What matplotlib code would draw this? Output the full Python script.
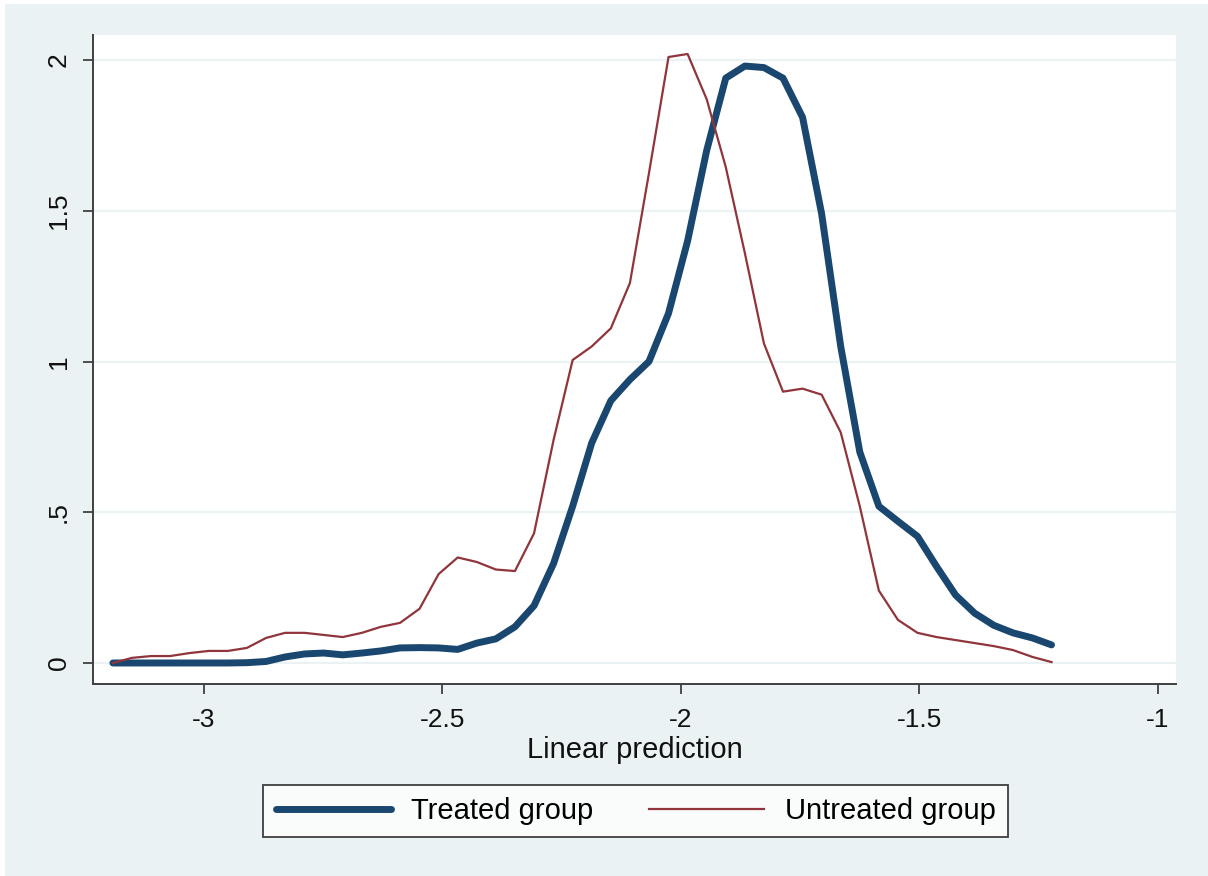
import matplotlib
matplotlib.use("Agg")
import matplotlib.pyplot as plt
from matplotlib.patches import Rectangle

# ---- data ----
x_grid = [-3.191, -3.151, -3.111, -3.071, -3.030, -2.990, -2.950, -2.910, -2.870, -2.830,
          -2.789, -2.749, -2.709, -2.669, -2.629, -2.589, -2.548, -2.508, -2.468, -2.428,
          -2.388, -2.348, -2.308, -2.267, -2.227, -2.187, -2.147, -2.107, -2.067, -2.026,
          -1.986, -1.946, -1.906, -1.866, -1.826, -1.786, -1.745, -1.705, -1.665, -1.625,
          -1.585, -1.545, -1.504, -1.464, -1.424, -1.384, -1.344, -1.304, -1.263, -1.223]

treated = [0.0, 0.0, 0.0, 0.0, 0.0, 0.0, 0.0, 0.001, 0.005, 0.02,
           0.03, 0.033, 0.027, 0.033, 0.04, 0.05, 0.051, 0.05, 0.045, 0.066,
           0.08, 0.12, 0.19, 0.33, 0.52, 0.73, 0.87, 0.94, 1.0, 1.16,
           1.40, 1.70, 1.94, 1.98, 1.975, 1.94, 1.81, 1.49, 1.05, 0.70,
           0.52, 0.47, 0.42, 0.32, 0.225, 0.165, 0.125, 0.10, 0.083, 0.06]

untreated = [0.0, 0.017, 0.023, 0.023, 0.033, 0.04, 0.04, 0.05, 0.083, 0.10,
             0.10, 0.093, 0.086, 0.10, 0.12, 0.133, 0.18, 0.295, 0.35, 0.335,
             0.31, 0.305, 0.43, 0.74, 1.005, 1.05, 1.11, 1.26, 1.625, 2.01,
             2.02, 1.87, 1.645, 1.36, 1.06, 0.90, 0.91, 0.89, 0.765, 0.52,
             0.24, 0.143, 0.10, 0.086, 0.076, 0.066, 0.056, 0.043, 0.02, 0.003]

x_ticks = [-3, -2.5, -2, -1.5, -1]
x_tick_labels = ["-3", "-2.5", "-2", "-1.5", "-1"]
y_ticks = [0, 0.5, 1, 1.5, 2]
y_tick_labels = ["0", ".5", "1", "1.5", "2"]
series_names = ["Treated group", "Untreated group"]

# ---- style ----
plt.rcParams['font.family'] = ['Liberation Sans', 'DejaVu Sans']
BG = "#eaf2f3"
BLUE = "#1a476f"
RED = "#90353b"

W, H = 1208, 876
fig = plt.figure(figsize=(W / 100, H / 100), dpi=100, facecolor=BG)
# thin white strip on top and left edges, as in the reference
fig.patches.append(Rectangle((0, 1 - 4 / H), 1, 4 / H, transform=fig.transFigure,
                             facecolor="white", edgecolor="none", zorder=-10))
fig.patches.append(Rectangle((0, 0), 5 / W, 1, transform=fig.transFigure,
                             facecolor="white", edgecolor="none", zorder=-10))

ax = fig.add_axes([93 / W, 1 - 684 / H, (1176 - 93) / W, (684 - 35) / H])
ax.set_facecolor("white")

ax.plot(x_grid, treated, color=BLUE, lw=5.0, solid_capstyle="round",
        solid_joinstyle="round", label=series_names[0], zorder=3)
ax.plot(x_grid, untreated, color=RED, lw=1.6, label=series_names[1], zorder=4)

ax.set_xlim(-3.2327, -0.962)
ax.set_ylim(-0.0697, 2.083)

ax.set_xticks(x_ticks)
ax.set_xticklabels(x_tick_labels)
ax.set_yticks(y_ticks)
ax.set_yticklabels(y_tick_labels, rotation=90, va="center")

ax.grid(axis="y", color=BG, lw=1.6, zorder=0)
ax.grid(axis="x", visible=False)
ax.set_axisbelow(True)

for s in ["top", "right"]:
    ax.spines[s].set_visible(False)
for s in ["left", "bottom"]:
    ax.spines[s].set_color("#404040")
    ax.spines[s].set_linewidth(1.4)

ax.tick_params(axis="both", direction="out", length=7, width=1.3, color="#404040",
               labelsize=19, labelcolor="#111111")
ax.tick_params(axis="x", pad=10)
ax.tick_params(axis="y", pad=9)

ax.set_xlabel("Linear prediction", fontsize=21, color="#111111", labelpad=3)

leg = fig.legend(loc="center", bbox_to_anchor=((255 + 1016) / 2 / W, 1 - 811 / H),
                 ncol=2, frameon=True, fancybox=False, fontsize=21,
                 handlelength=3.95, handletextpad=0.7, columnspacing=1.9,
                 borderpad=0.42, borderaxespad=0)
leg.get_frame().set_edgecolor("#111111")
leg.get_frame().set_linewidth(1.3)
leg.get_frame().set_facecolor("white")

fig.savefig("out.png", dpi=100, facecolor=fig.get_facecolor())
